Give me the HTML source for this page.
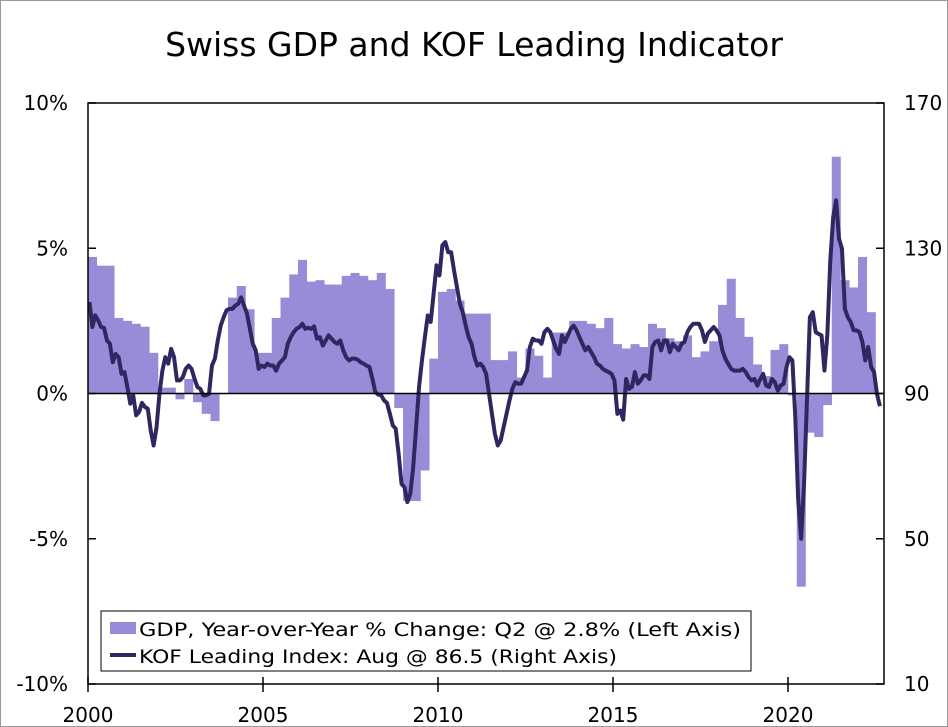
<!DOCTYPE html>
<html><head><meta charset="utf-8">
<style>
html,body{margin:0;padding:0;background:#fff;}
svg{display:block;font-family:"DejaVu Sans","Liberation Sans",sans-serif;}
</style></head>
<body>
<svg id="chart" width="948" height="727" viewBox="0 0 948 727" xmlns="http://www.w3.org/2000/svg">
<rect x="0.5" y="0.5" width="947" height="726" fill="#fff" stroke="#999"/>
<text x="474" y="56" font-size="33" text-anchor="middle" fill="#000">Swiss GDP and KOF Leading Indicator</text>
<g id="bars"></g>
<g id="lines"></g>
<g id="axes"></g>
<g>
<rect x="101" y="611" width="650" height="60" fill="#fff" stroke="#000" stroke-width="1"/>
<rect x="110" y="622" width="26" height="12" fill="#9a8bd9"/>
<text x="139" y="636" font-size="19" textLength="602" lengthAdjust="spacingAndGlyphs">GDP, Year-over-Year % Change: Q2 @ 2.8% (Left Axis)</text>
<line x1="110" y1="655" x2="136" y2="655" stroke="#2e2860" stroke-width="4"/>
<text x="139" y="663" font-size="19" textLength="478" lengthAdjust="spacingAndGlyphs">KOF Leading Index: Aug @ 86.5 (Right Axis)</text>
</g>
</svg>
<script>
const gdpValues = [4.7,4.4,4.4,2.6, 2.5,2.4,2.3,1.4, 0.2,0.2,-0.2,0.5, -0.3,-0.7,-0.95,0.0,
3.3,3.7,2.9,1.4, 1.4,2.6,3.3,4.1, 4.6,3.85,3.9,3.75, 3.75,4.05,4.15,4.05, 3.9,4.15,3.6,-0.5,
-3.7,-3.7,-2.65,1.2, 3.5,3.6,3.2,2.75, 2.75,2.75,1.15,1.15, 1.45,0.55,1.55,1.3, 0.55,2.1,2.1,2.5,
2.5,2.4,2.25,2.6, 1.7,1.55,1.7,1.6, 2.4,2.25,1.9,1.8, 2.0,1.25,1.45,1.8, 3.05,3.95,2.6,1.95,
1.0,0.6,1.5,1.7, -0.07,-6.65,-1.35,-1.5, -0.4,8.15,3.9,3.65, 4.7,2.8];
const kofValues = [115.2,108.3,111.5,110.1,108.3,108.1,104.6,103.7,98.6,100.9,
100.0,95.4,95.9,91.8,87.2,89.5,84.0,84.9,87.4,86.3,
85.8,79.8,75.7,80.7,89.9,96.3,100.0,98.2,102.3,100.0,
93.6,93.6,94.5,96.8,97.7,96.8,94.1,91.8,91.3,89.5,
89.5,89.9,97.7,99.6,104.6,108.7,111.0,112.9,113.3,113.3,
114.2,114.7,116.5,114.2,112.0,107.8,103.7,101.9,96.8,97.7,
97.3,98.2,97.7,97.7,96.3,98.2,99.1,100.0,103.7,105.5,
106.9,107.8,108.3,109.2,107.8,108.1,107.8,108.5,105.1,105.5,
103.2,104.6,106.0,105.1,104.2,103.7,104.6,101.9,100.0,99.1,
99.6,99.6,99.3,98.6,98.2,97.7,97.3,94.1,90.4,89.7,
89.5,88.1,87.4,84.4,81.2,80.3,73.4,65.1,64.2,60.1,
62.4,69.7,80.7,91.8,99.1,105.5,111.5,109.7,117.5,125.3,
122.5,130.8,131.7,128.9,128.9,123.9,119.3,114.7,112.4,108.7,
105.5,103.7,100.0,97.7,98.2,
97.3,95.4,89.9,84.4,78.9,75.7,77.1,80.8,84.4,88.1,
91.3,93.1,92.7,92.7,94.5,96.3,102.8,105.1,104.6,104.6,
103.7,106.9,107.8,106.9,104.6,102.3,100.9,106.0,104.2,106.0,
107.8,108.7,107.4,105.5,103.7,101.9,102.8,101.4,100.0,98.2,
97.7,96.8,96.3,95.9,95.4,93.6,84.4,85.3,82.8,94.0,
91.3,91.8,95.9,92.7,93.6,95.0,95.0,94.0,102.8,104.2,
104.6,101.9,104.6,104.6,101.4,103.7,102.8,101.9,103.7,104.2,
106.9,108.3,109.2,109.2,109.2,107.4,104.2,106.5,107.4,108.3,
107.4,106.0,101.9,99.6,98.2,96.8,96.3,96.3,96.3,96.8,
95.9,94.5,93.6,94.0,92.2,94.0,95.4,92.2,91.8,94.0,
93.1,90.8,92.2,92.7,97.3,100.0,99.1,83.5,60.6,50.0,
65.1,88.1,111.0,112.4,106.9,106.4,106.0,96.3,106.4,126.6,
138.6,143.2,132.6,129.9,113.3,111.0,109.7,107.4,107.4,106.9,
104.2,99.1,102.8,97.3,95.9,89.9,86.5];
const leftTicks = [-10,-5,0,5,10];
const leftTickLabels = ["-10%","-5%","0%","5%","10%"];
const rightTicks = [10,50,90,130,170];
const rightTickLabels = ["10","50","90","130","170"];
const yearTicks = [2000,2005,2010,2015,2020];

const X0=88, X1=884, YT=103, YB=684;
const xYear = y => X0 + (y-2000)*35;
const yLeft = v => YB - (v+10)/20*(YB-YT);
const yRight = v => YB - (v-10)/160*(YB-YT);
const NS="http://www.w3.org/2000/svg";
function mk(tag, attrs, parent){const e=document.createElementNS(NS,tag);for(const k in attrs)e.setAttribute(k,attrs[k]);parent.appendChild(e);return e;}

const bars=document.getElementById('bars');
gdpValues.forEach((v,i)=>{
  const xa=xYear(2000+i/4), xb=xYear(2000+(i+1)/4);
  const y0=yLeft(0), y1=yLeft(v);
  const r=mk('rect',{x:xa,y:Math.min(y0,y1),width:xb-xa+0.3,height:Math.abs(y1-y0),fill:'#9a8bd9'},bars);
  
  
});

const lines=document.getElementById('lines');
const pts=kofValues.map((v,i)=>xYear(2000+(i+0.5)/12).toFixed(2)+','+yRight(v).toFixed(2)).join(' ');
const pl=mk('polyline',{points:pts,fill:'none',stroke:'#2e2860','stroke-width':4,'stroke-linejoin':'round'},lines);



const axes=document.getElementById('axes');
const z=mk('line',{x1:X0,x2:X1,y1:yLeft(0),y2:yLeft(0),stroke:'#000','stroke-width':1.5},axes);


const fr=mk('rect',{x:X0,y:YT,width:X1-X0,height:YB-YT,fill:'none',stroke:'#000','stroke-width':1.5},axes);


leftTicks.forEach((v,i)=>{
  const y=yLeft(v);
  mk('line',{x1:X0,x2:X0+8,y1:y,y2:y,stroke:'#000','stroke-width':1.5},axes);
  const t=mk('text',{x:X0-20,y:y+7,'font-size':20,'text-anchor':'end'},axes);
  t.textContent=leftTickLabels[i];
  
  
});
rightTicks.forEach((v,i)=>{
  const y=yRight(v);
  mk('line',{x1:X1-8,x2:X1,y1:y,y2:y,stroke:'#000','stroke-width':1.5},axes);
  const t=mk('text',{x:X1+20,y:y+7,'font-size':20,'text-anchor':'start'},axes);
  t.textContent=rightTickLabels[i];
  
  
});
yearTicks.forEach(yr=>{
  const x=xYear(yr);
  mk('line',{x1:x,x2:x,y1:YB-7,y2:YB+8,stroke:'#000','stroke-width':1.5},axes);
  const t=mk('text',{x:x,y:722,'font-size':20,'text-anchor':'middle'},axes);
  t.textContent=String(yr);
  
  
});
</script>
</body></html>
